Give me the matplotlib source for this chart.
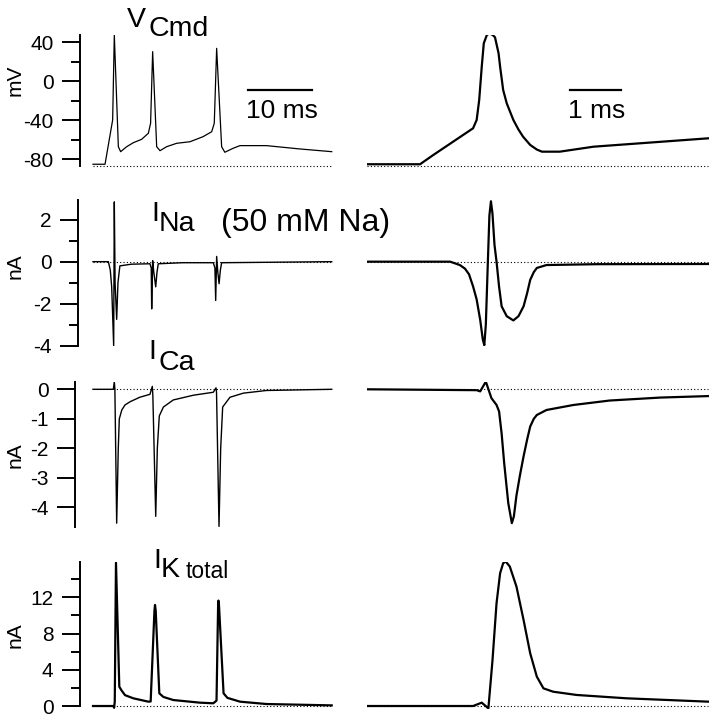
import matplotlib
matplotlib.use("Agg")
import matplotlib.pyplot as plt
from matplotlib.ticker import FixedLocator

plt.rcParams['font.family'] = ['Liberation Sans', 'DejaVu Sans']
plt.rcParams['axes.unicode_minus'] = False

# ---- data: left column (ms, 37 ms sweep), right column (ms, expanded spike)
v_left_t = [0, 1.88, 3.07, 3.33, 3.96, 4.32, 5.26, 6.3, 7.6, 8.65, 9.0, 9.32, 9.95, 10.47,
            11.5, 13.08, 15.16, 17.2, 18.55, 18.95, 19.32, 20.1, 20.6, 21.9, 22.97, 27.1, 32.3, 37.3]
v_left = [-85.1, -85.1, -39.7, 47.5, -67.1, -72.2, -67.1, -63, -59.5, -53.3, -43, 30.4, -67.1, -71.2,
          -67.1, -63.6, -62, -56.8, -51.7, -43, 33.8, -67.1, -72.8, -68.7, -66, -66, -69.4, -72.2]
v_right_t = [0, 1.04, 1.3, 1.69, 2.08, 2.15, 2.2, 2.25, 2.29, 2.35, 2.39, 2.43, 2.47, 2.51, 2.58,
             2.61, 2.67, 2.74, 2.87, 2.97, 3.06, 3.2, 3.33, 3.43, 3.78, 4.44, 6.69]
v_right = [-85.1, -85.1, -75.6, -61.9, -48.2, -39.7, -19.2, 15, 39, 47.5, 48.8, 48.5, 47.3, 45.1,
           28.7, 15, -8.9, -22.6, -39.7, -49.5, -56.8, -65.3, -70.0, -72.2, -72.2, -67.1, -58.5]

na_left_t = [0, 2.4, 2.7, 2.92, 3.23, 3.33, 3.45, 3.7, 3.9, 4.2, 6.0, 8.9, 9.1, 9.17, 9.32, 9.5,
             9.8, 10.0, 10.2, 14.0, 18.8, 19.05, 19.17, 19.32, 19.5, 19.7, 19.9, 20.1, 37.3]
na_left = [0, 0, -0.4, -1.2, -4.0, 2.85, -1.0, -2.75, -1.0, -0.2, -0.12, -0.1, -0.3, -2.25, 0.05, -0.5,
           -1.2, -0.5, -0.1, -0.05, -0.05, -0.3, -1.85, 0.25, -0.5, -1.05, -0.4, -0.05, 0]
na_right_t = [0, 1.63, 1.82, 1.92, 2.0, 2.08, 2.15, 2.22, 2.27, 2.30, 2.33, 2.37, 2.40, 2.43, 2.46,
              2.50, 2.54, 2.59, 2.64, 2.74, 2.87, 2.97, 3.07, 3.14, 3.2, 3.27, 3.33, 3.52, 4.5, 6.69]
na_right = [0, 0, -0.16, -0.33, -0.6, -1.18, -1.8, -2.78, -3.7, -3.98, -3.0, 0, 2.2, 2.88, 2.3,
            0.8, 0, -1.2, -2.13, -2.6, -2.8, -2.6, -2.13, -1.5, -0.87, -0.5, -0.3, -0.16, -0.12, -0.11]

ca_left_t = [0, 3.18, 3.33, 3.42, 3.7, 3.95, 4.11, 4.5, 5.0, 5.8, 7.3, 8.9, 9.27, 9.35, 9.8, 10.05,
             10.36, 11.0, 12.55, 15.7, 18.8, 19.22, 19.3, 19.69, 19.95, 20.26, 21.4, 23.5, 27.1, 37.3]
ca_left = [0, 0, 0.26, 0.0, -4.53, -2.0, -1.0, -0.7, -0.53, -0.42, -0.27, -0.17, 0.1, -0.2, -4.3, -2.0,
           -0.9, -0.6, -0.36, -0.2, -0.1, 0.05, -0.1, -4.64, -2.0, -0.6, -0.27, -0.13, -0.04, 0]
ca_right_t = [0, 2.15, 2.22, 2.33, 2.44, 2.54, 2.59, 2.64, 2.69, 2.77, 2.84, 2.88, 2.93, 3.0, 3.07,
              3.14, 3.2, 3.27, 3.33, 3.52, 4.05, 4.76, 5.75, 6.69]
ca_right = [0, -0.03, -0.07, 0.26, -0.3, -0.53, -0.75, -1.5, -2.5, -3.85, -4.53, -4.3, -3.6, -2.9,
            -2.27, -1.7, -1.26, -1.0, -0.87, -0.7, -0.53, -0.38, -0.28, -0.23]

k_left_t = [0, 3.18, 3.3, 3.4, 3.59, 4.11, 4.48, 5.0, 6.3, 8.65, 9.01, 9.6, 9.69, 9.8, 10.36, 11.0,
            12.55, 16.7, 18.8, 19.3, 19.55, 19.6, 19.68, 20.4, 21.0, 22.97, 27.1, 37.3]
k_left = [0, 0, -0.2, 0.5, 15.83, 2.13, 1.7, 1.2, 0.85, 0.48, 0.5, 10.5, 11.16, 10.5, 1.4, 1.0,
          0.66, 0.37, 0.3, 0.6, 11.2, 11.64, 11.2, 1.4, 0.9, 0.48, 0.22, 0.07]
k_right_t = [0, 2.08, 2.25, 2.38, 2.46, 2.54, 2.61, 2.67, 2.72, 2.80, 2.93, 3.07, 3.2, 3.33, 3.46,
             3.65, 4.11, 5.09, 6.69]
k_right = [0, 0, 0.37, -0.26, 5.0, 11.35, 14.66, 15.77, 15.95, 15.4, 13.2, 9.5, 5.82, 3.24, 1.95,
           1.58, 1.22, 0.85, 0.48]

W, H = 715, 720
fig = plt.figure(figsize=(W / 100, H / 100), dpi=100)


def px_axes(x0, y0, x1, y1):
    return fig.add_axes([x0 / W, 1 - y1 / H, (x1 - x0) / W, (y1 - y0) / H])


def ftext(x, y, s, **kw):
    fig.text(x / W, 1 - y / H, s, **kw)


# left panels: spine x, top y, bottom y, ylim, major, minor, traces, baseline, lw
rows = [
    (80, 35, 166, (-86.9, 47.5), [-80, -40, 0, 40], [-60, -20, 20], v_left_t, v_left, v_right_t, v_right, -87, 0.9),
    (78, 200, 346, (-4.02, 2.94), [-4, -2, 0, 2], [-3, -1, 1], na_left_t, na_left, na_right_t, na_right, 0, 1.0),
    (75, 381.7, 527, (-4.66, 0.257), [-4, -3, -2, -1, 0], [], ca_left_t, ca_left, ca_right_t, ca_right, 0, 1.0),
    (80, 562, 709, (-0.33, 15.9), [0, 4, 8, 12], [2, 6, 10, 14], k_left_t, k_left, k_right_t, k_right, 0, 1.6),
]

for sx, ytop, ybot, ylim, major, minor, lt, lv, rt, rv, base, lw in rows:
    ax = px_axes(sx, ytop, 340, ybot)
    ax.set_xlim((sx - 93) / 6.4, 247 / 6.4)
    ax.set_ylim(*ylim)
    ax.plot(lt, lv, color='black', lw=lw)
    ax.plot([lt[0], lt[-1]], [base, base], color='black', lw=0.8, ls=(0, (1, 2)), clip_on=False)
    for s in ['top', 'right', 'bottom']:
        ax.spines[s].set_visible(False)
    ax.spines['left'].set_linewidth(1.4)
    if major[0] == 0:
        ax.spines['left'].set_bounds(0, ylim[1])
    ax.set_xticks([])
    ax.yaxis.set_major_locator(FixedLocator(major))
    ax.yaxis.set_minor_locator(FixedLocator(minor))
    ax.tick_params(axis='y', which='major', length=13, width=1.4, labelsize=15, pad=6)
    ax.tick_params(axis='y', which='minor', length=6.5, width=1.4)
    ax.patch.set_visible(False)

    axr = px_axes(367, ytop, 709, ybot)
    axr.set_xlim(0, 6.706)
    axr.set_ylim(*ylim)
    axr.plot(rt, rv, color='black', lw=1.6)
    axr.plot([rt[0], rt[-1]], [base, base], color='black', lw=0.8, ls=(0, (1, 2)), clip_on=False)
    axr.axis('off')

    if major[0] == -80:
        ax_v, axr_v = ax, axr

# scale bars
ax_v.plot([24.2, 34.2], [-9, -9], color='black', lw=1.6)
ax_v.text(29.5, -18, '10 ms', ha='center', va='top', fontsize=19)
axr_v.plot([3.98, 4.98], [-8.5, -8.5], color='black', lw=1.6)
axr_v.text(4.5, -18, '1 ms', ha='center', va='top', fontsize=19)

# y labels
for yc, s in [(80, 'mV'), (266, 'nA'), (455, 'nA'), (635, 'nA')]:
    ftext(15, yc, s, rotation=90, ha='center', va='center', fontsize=15)

# trace titles
big = 20.5
ftext(127, 27, 'V', fontsize=big, va='baseline')
ftext(149, 36, 'Cmd', fontsize=big, va='baseline')
ftext(151, 221, 'I', fontsize=big, va='baseline')
ftext(159, 231, 'Na', fontsize=big, va='baseline')
ftext(221, 231, '(50 mM Na)', fontsize=23, va='baseline')
ftext(148, 359, 'I', fontsize=big, va='baseline')
ftext(158, 370, 'Ca', fontsize=big, va='baseline')
ftext(153, 568, 'I', fontsize=big, va='baseline')
ftext(161, 577, 'K', fontsize=big, va='baseline')
ftext(186, 578, 'total', fontsize=16.5, va='baseline')

fig.savefig('out.png', dpi=100)
